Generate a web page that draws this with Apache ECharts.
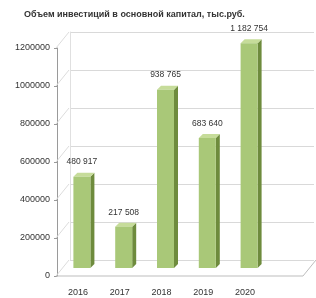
<!DOCTYPE html>
<html><head><meta charset="utf-8">
<script src="https://cdn.jsdelivr.net/npm/echarts@6/dist/echarts.min.js"></script>
<style>html,body{margin:0;padding:0;background:#fff}#c{width:316px;height:298px}</style>
</head><body><div id="c"></div>
<script>
const title = 'Объем инвестиций в основной капитал, тыс.руб.';
const categories = ['2016', '2017', '2018', '2019', '2020'];
const values = [480917, 217508, 938765, 683640, 1182754];
const ticks = [0, 200000, 400000, 600000, 800000, 1000000, 1200000];

const DX = 13, DY = -16;
const BX = 4, BY = -8;
const fmt = v => String(v).replace(/\B(?=(\d{3})+(?!\d))/g, ' ');
const FONT = 'Liberation Sans Narrow, Liberation Sans, sans-serif';
const chart = echarts.init(document.getElementById('c'));
chart.setOption({
  animation: false,
  title: { text: title, left: 19, top: 5, textStyle: { fontSize: 9, fontWeight: 'bold', color: '#333', fontFamily: FONT } },
  grid: [
    { left: 57, right: 50, top: 48, bottom: 22 },
    { left: 57 + DX, right: 2, top: 48 + DY, bottom: 22 - DY }
  ],
  xAxis: [
    { gridIndex: 0, type: 'category', data: categories, axisLine: { show: false }, axisTick: { show: false },
      axisLabel: { margin: 12, fontSize: 9, color: '#333', fontFamily: FONT } },
    { gridIndex: 1, type: 'category', data: categories, show: false }
  ],
  yAxis: [
    { gridIndex: 0, type: 'value', min: 0, max: 1200000, interval: 200000,
      axisLine: { show: true, lineStyle: { color: '#9a9a9a' } }, axisTick: { show: true, length: 3, lineStyle: { color: '#9a9a9a' } },
      splitLine: { show: false },
      axisLabel: { margin: 7, fontSize: 9, color: '#333', fontFamily: FONT, formatter: v => String(v) } },
    { gridIndex: 1, type: 'value', min: 0, max: 1200000, interval: 200000,
      axisLabel: { show: false }, axisLine: { show: true, lineStyle: { color: '#e0e0e0' } }, axisTick: { show: false },
      splitLine: { show: true, lineStyle: { color: '#d9d9d9' } } }
  ],
  series: [
    { type: 'custom', xAxisIndex: 0, yAxisIndex: 0, data: ticks.map(t => [0, t]), z: 1,
      renderItem: (p, api) => {
        const c = api.coord([0, api.value(1)]);
        const half = api.size([1, 0])[0] / 2;
        const x0 = c[0] - half - 1;
        return { type: 'line', shape: { x1: x0, y1: c[1], x2: x0 + DX, y2: c[1] + DY }, style: { stroke: '#dcdcdc', lineWidth: 1 } };
      } },
    { type: 'custom', xAxisIndex: 0, yAxisIndex: 0, data: [[0, 0]], z: 1,
      renderItem: (p, api) => {
        const c = api.coord([0, 0]);
        const w = api.size([1, 0])[0];
        const x0 = c[0] - w / 2 - 1;
        const x1 = x0 + w * categories.length + 38;
        return { type: 'polyline', shape: { points: [[x0, c[1]], [x1, c[1]], [x1 + DX, c[1] + DY]] }, style: { stroke: '#bdbdbd', lineWidth: 1, fill: null } };
      } },
    { type: 'custom', xAxisIndex: 0, yAxisIndex: 0, z: 5,
      data: values.map((v, i) => [i, v]),
      renderItem: (p, api) => {
        const i = api.value(0), v = api.value(1);
        const t0 = api.coord([i, v]), b0 = api.coord([i, 0]);
        const ty = t0[1] + BY, by = b0[1] + BY;
        const bw = 17, d = 4;
        const xl = t0[0] + BX - bw / 2, xr = xl + bw;
        return { type: 'group', children: [
          { type: 'polygon', shape: { points: [[xr, ty], [xr + d, ty - d], [xr + d, by - d], [xr, by]] }, style: { fill: '#6e8b3d' } },
          { type: 'polygon', shape: { points: [[xl, ty], [xl + d, ty - d], [xr + d, ty - d], [xr, ty]] }, style: { fill: '#c6dc9a' } },
          { type: 'rect', shape: { x: xl, y: ty, width: bw, height: by - ty }, style: { fill: '#a9c878' } },
          { type: 'text', style: { text: fmt(v), x: xl + bw / 2, y: ty - 10, align: 'center', verticalAlign: 'bottom', fontSize: 8.5, fill: '#333', fontFamily: FONT } }
        ] };
      } }
  ]
});
</script></body></html>
